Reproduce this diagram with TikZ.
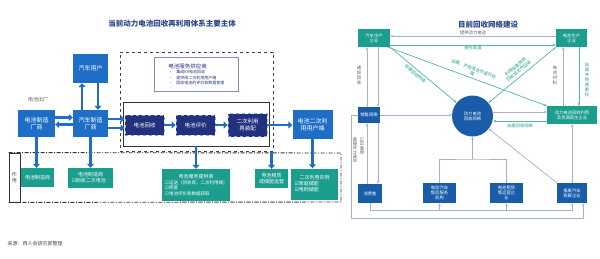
\documentclass[tikz,border=0pt]{standalone}
\usepackage{fontspec}
\setmainfont{Noto Sans CJK SC}
\newfontfamily\symfont{DejaVu Sans}
\usepackage{tikz}
\usetikzlibrary{arrows.meta,positioning,calc}
\definecolor{Blue}{HTML}{1E6EC8}
\definecolor{Navy}{HTML}{22307E}
\definecolor{Teal}{HTML}{1B9E8D}
\definecolor{Title}{HTML}{2C4A8C}
\definecolor{Wire}{HTML}{A3B2D2}
\newcommand{\chk}{{\symfont\char"2611}}

\begin{document}
\begin{tikzpicture}[x=1pt,y=-1pt,
    bx/.style={fill=Blue,text=white,align=center,inner sep=1pt,font=\fontsize{6}{7.5}\selectfont},
    nv/.style={fill=Navy,draw=Blue!55,dashed,line width=0.8pt,text=white,align=center,inner sep=1pt,minimum width=39pt,minimum height=20pt,font=\fontsize{5.5}{7}\selectfont},
    tl/.style={fill=Teal,text=white,align=center,inner sep=1pt,font=\fontsize{5}{6}\selectfont},
    fat/.style={-{Triangle[length=4pt,width=7pt]},line width=2.6pt,draw=Blue},
    rb/.style={fill=Blue!85!black,text=white,align=center,inner sep=1pt,font=\fontsize{4.3}{5.2}\selectfont},
    rt/.style={rb,fill=Teal},
    ln/.style={-{Stealth[length=3pt,width=2.5pt]},draw=Wire,line width=0.7pt},
    tln/.style={ln,draw=Teal!75},
    lab/.style={font=\fontsize{4.3}{5}\selectfont,text=black!65,align=center,inner sep=1pt},
    tlab/.style={lab,text=Teal},
    ttl/.style={font=\bfseries\fontsize{7.5}{9}\selectfont,text=Title}]
  \fill[white] (0,0) rectangle (600,258);
  \useasboundingbox (0,0) rectangle (600,258);

  % left: current main bodies
  \node[ttl] (t1) at (172,24) {当前动力电池回收再利用体系主要主体};
  \node[bx,minimum width=35pt,minimum height=29pt] (yh) at (90.5,68.5) {汽车用户};
  \node[lab,font=\fontsize{5}{6}\selectfont] (cc) at (38,100) {电池出厂};
  \node[bx,minimum width=37pt,minimum height=27pt] (bm) at (36.5,123.5) {电池制造\\厂商};
  \node[bx,minimum width=35pt,minimum height=27pt] (am) at (90.5,123.5) {汽车制造\\厂商};
  \node[draw=black!75,dashed,line width=1pt,minimum width=153pt,minimum height=99pt] (fw) at (196.5,101.5) {};
  \node[draw=Navy!55,line width=0.8pt,fill=white,text=Navy,align=left,inner sep=2pt,
        anchor=north west,minimum width=84pt,minimum height=34pt,font=\fontsize{4}{5.5}\selectfont] (gy) at (154,57)
       {{\fontsize{5.5}{7}\selectfont 电池服务供应商}\\
        \textbullet\quad 集成EV电池回收\\
        \textbullet\quad 提供给二次利用用户端\\
        \textbullet\quad 回收电池的评价和数据管理};
  \node[draw=black!80,line width=0.7pt,minimum width=146pt,minimum height=44pt] (lc) at (196,124) {};
  \node[nv] (hs) at (144.5,125) {电池回收};
  \node[nv] (pj) at (195.5,125) {电池评价};
  \node[nv,minimum height=23pt] (zp) at (247.5,125) {二次利用\\再装配};
  \node[bx,minimum width=40pt,minimum height=29pt] (ed) at (312.5,124.5) {电池二次利\\用用户端};

  \node[draw=black!80,line width=0.8pt,minimum width=11pt,minimum height=49pt,inner sep=0pt,
        font=\fontsize{5}{6.5}\selectfont,text=black!70,align=center] (zy) at (14.5,177.5) {作\\用};
  \draw[black!80,line width=0.9pt,dash pattern=on 4pt off 1.5pt on 1pt off 1.5pt]
    (zy.north west) -- (341,153) -- (341,202) -- (zy.south west);
  \node[tl,minimum width=33pt,minimum height=19pt] (b1) at (37.5,177.5) {电池制造商};
  \node[tl,minimum width=45pt,minimum height=20pt] (b2) at (90.5,178) {电池制造商\\\makebox[38pt][l]{\chk 回收二次电池}};
  \node[tl,minimum width=68pt,minimum height=32pt,font=\fontsize{4.5}{5.5}\selectfont] (b3) at (196,185)
       {{\fontsize{5}{6}\selectfont 电池服务提供商}\\\makebox[62pt][l]{\chk 运送（回收商，二次利用端）}\\
        \makebox[62pt][l]{\chk 修复}\\\makebox[62pt][l]{\chk 电池评价和数据获取}};
  \node[tl,minimum width=33pt,minimum height=19pt] (b4) at (271.5,178.5) {电池租赁\\或储能运营};
  \node[tl,minimum width=47pt,minimum height=31pt] (b5) at (314.5,184) {二次利用实例\\\makebox[40pt][l]{\chk 家庭储能}\\\makebox[40pt][l]{\chk 电网储能}};

  \draw[fat] ([xshift=-8.5pt]am.north) -- ([xshift=-8.5pt]yh.south);
  \draw[fat] ([xshift=7.5pt]yh.south) -- ([xshift=7.5pt]am.north);
  \draw[fat] ([yshift=6pt]bm.east) -- ([yshift=6pt]am.west);
  \draw[fat] ([yshift=-1pt]am.west) -- ([yshift=-1pt]bm.east);
  \draw[fat] (am.east |- 0,119) -- (hs.west |- 0,119);
  \draw[fat] (am.east |- 0,128) -- (hs.west |- 0,128);
  \draw[fat] (hs) -- (pj);
  \draw[fat] (pj) -- (zp);
  \draw[fat] (zp.east) -- (zp.east -| ed.west);
  \draw[fat] (bm.south) -- (bm.south |- b1.north);
  \draw[fat] (am.south) -- (am.south |- b2.north);
  \draw[fat] (lc.south) -- (b3.north);
  \draw[fat] (fw.south -| b4.north) -- (b4.north);
  \draw[fat] (ed.south) -- (ed.south |- b5.north);

  % right: recycling network
  \node[ttl] (t2) at (488,25) {目前回收网络建设};
  \node[rt,minimum width=32pt,minimum height=18pt] (qc) at (374,38) {汽车生产\\企业};
  \node[rt,minimum width=31pt,minimum height=18pt] (dc) at (571.5,38) {电池生产\\企业};
  \node[rb,minimum width=22pt,minimum height=16pt] (xs) at (369,115) {销售网络};
  \node[rb,circle,minimum size=41pt] (hw) at (472.5,116) {动力电池\\回收网络};
  \node[rt,minimum width=50pt,minimum height=18pt] (zs) at (572,115) {动力电池回收利用\\及资源再生企业};
  \node[rb,minimum width=24pt,minimum height=19pt] (xf) at (370,193.5) {消费者};
  \node[rb,minimum width=33pt,minimum height=20pt] (sh) at (439.5,193) {电动汽车\\售后服务\\机构};
  \node[rb,minimum width=33pt,minimum height=20pt] (zl) at (506.5,193) {电池租赁\\等运营企\\业};
  \node[rb,minimum width=30pt,minimum height=20pt] (bf) at (572,193) {报废汽车\\拆解企业};

  \draw[ln] ([yshift=2pt]dc.west) -- ([yshift=2pt]qc.east) node[lab,midway,above]{提供动力电池};
  \draw[tln] ([yshift=-7pt]qc.east) -- ([yshift=-7pt]dc.west) node[tlab,midway,below]{委托处理};
  \draw[ln] (xs.north -| 367,0) -- (qc.south -| 367,0);
  \draw[ln] (qc.south -| 378,0) -- (xs.north -| 378,0);
  \node[lab] (tz) at (359,75) {通\\知\\回\\收};
  \draw[tln] (qc.south east) -- (hw) node[tlab,sloped,pos=0.42,below=1pt]{自建回收网络};
  \draw[tln] ([xshift=-2pt]qc.south east) -- (zs.north west) node[tlab,sloped,pos=0.52,above=1pt]{自建、并购或合作委托处\\理};
  \draw[tln,{Stealth[length=3pt,width=2.5pt]}-{Stealth[length=3pt,width=2.5pt]}] (dc.south west) -- (hw)
    node[tlab,sloped,midway,above=2pt]{利用销售网络\\回收或合作回收};
  \draw[ln] (zs.north -| 563,0) -- (dc.south -| 563,0);
  \node[lab] (dl) at (555,75) {电\\池\\材\\料};
  \draw[tln] (dc.south -| 579,0) -- (zs.north -| 579,0);
  \node[tlab] (zw) at (587,80) {自\\建\\并\\购\\或\\委\\托};
  \draw[ln] (xs.east) -- (xs.east -| hw.west);
  \draw[ln] ([yshift=4pt]hw.east) -- ([yshift=4pt]hw.east -| zs.west);
  \draw[tln] (zs.west |- 0,121) -- (hw.east |- 0,121) node[tlab,midway,below=1pt]{自建回收网络};
  \draw[ln] (xf.north -| 367,0) -- (xs.south -| 367,0);
  \draw[ln] (xs.south -| 378,0) -- (xf.north -| 378,0);
  \node[lab,rotate=-90] (bd) at (355,150) {报废动力电池};
  \node[lab,rotate=-90] (yj) at (362,146) {以旧换新};
  \coordinate (jn) at (472.5,159);
  \draw[ln,-] (sh.north) |- (jn) -| (zl.north);
  \draw[ln] (jn) -- (hw.south);
  \draw[ln] (bf.north west) -- (hw);
  \draw[ln] (bf.north) -- (zs.south);
  \draw[ln] (xf.south) -- ++(0,7) coordinate (b0) -| (bf.south);
  \draw[ln] (b0 -| sh.south) -- (sh.south);
  \draw[ln] (b0 -| zl.south) -- (zl.south);
  \coordinate (oc) at (351,218);
  \draw[ln] (xs.west) -| (oc) -| ([xshift=11pt]bf.south);

  \node[anchor=west,font=\fontsize{5}{6}\selectfont,text=black!70] (ly) at (4,244) {来源：西人会研究部整理};
\end{tikzpicture}
\end{document}
